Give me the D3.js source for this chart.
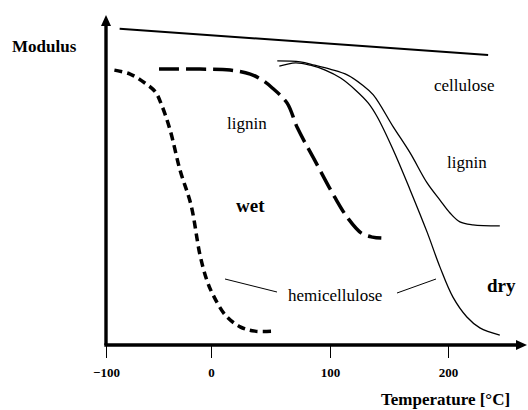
<!DOCTYPE html>
<html>
<head>
<meta charset="utf-8">
<script src="https://cdn.jsdelivr.net/npm/d3@7"></script>
<style>
  body { margin: 0; background: #fff; }
  svg { display: block; font-family: "Liberation Serif", "Times New Roman", serif; }
</style>
</head>
<body>
<svg id="chart" width="528" height="410"></svg>
<script>
// temperature [°C] vs modulus (arbitrary units 0..100)
const tickTemps = [-100, 0, 100, 200];

const celluloseWet = [[-87, 95.8], [234, 87.9]];

const hemiWet = [
  [-92, 83.3], [-77, 82.1], [-63, 79.4], [-53, 76.7], [-47, 72.7], [-39, 65.2],
  [-29.5, 53], [-19, 42.4], [-10.5, 27.3], [-4, 19.7], [1.7, 15.2], [12, 9.1],
  [24.5, 5.5], [37, 4.2], [54, 4.2]
];

const ligninWet = [
  [-49.5, 83.6], [-10.5, 83.6], [16, 83.3], [33, 82.1], [43, 80.3], [51.5, 77.9],
  [64, 73.3], [72.6, 65.8], [87, 56.1], [104, 44.8], [115, 38.5], [126.6, 33.9],
  [136, 32.7], [143.5, 32.4]
];

const celluloseDry = [
  [55.7, 86.1], [75, 85.8], [87, 84.8], [100, 83.6], [115, 81.8], [127.4, 78.8],
  [136.7, 75.8], [153.6, 66.1], [167.9, 58.2], [182.3, 49.1], [193.2, 43.9],
  [201.7, 40], [210.1, 37.3], [221.1, 36.4], [243.9, 36.1]
];

const ligninDry = [
  [57.4, 84.5], [71, 85.5], [83.5, 84.8], [96, 83.3], [109, 80.9], [121.5, 77.3],
  [132.5, 73.3], [140.1, 69.1], [153.6, 59.1], [167.9, 47], [182.3, 34.2],
  [193.2, 23.6], [204.2, 14.5], [216, 8.5], [227, 5.2], [243.9, 3]
];

const svg = d3.select("#chart");
const width = 528;

const x = d3.scaleLinear()
  .domain([-100, 0, 100, 200])
  .range([106, 211, 330, 448]);

const y = d3.scaleLinear()
  .domain([0, 100])
  .range([345, 15]);

const line = d3.line()
  .x((d) => x(d[0]))
  .y((d) => y(d[1]))
  .curve(d3.curveCatmullRom);

// axes
const x0 = x(-100), y0 = y(0), yTop = y(100);

svg.append("g")
  .attr("transform", `translate(0,${y0})`)
  .call(d3.axisBottom(x).tickValues(tickTemps).tickSize(13).tickFormat(d3.format("d")))
  .call((g) => g.select(".domain").remove())
  .call((g) => g.selectAll("line").attr("stroke", "#000").attr("stroke-width", 1))
  .call((g) => g.selectAll("text")
    .attr("y", 32).attr("dy", null)
    .attr("fill", "#000")
    .style("font-family", "Liberation Serif")
    .style("font-weight", "bold")
    .style("font-size", "13px"));

svg.append("line")
  .attr("x1", x0).attr("y1", y0)
  .attr("x2", x0).attr("y2", yTop + 8)
  .attr("stroke", "#000").attr("stroke-width", 3.4);
svg.append("path")
  .attr("d", `M${x0},${yTop}L${x0 - 5},${yTop + 11}L${x0 + 5},${yTop + 11}Z`)
  .attr("fill", "#000");

svg.append("line")
  .attr("x1", x0 - 1.7).attr("y1", y0)
  .attr("x2", width - 9).attr("y2", y0)
  .attr("stroke", "#000").attr("stroke-width", 3.4);
svg.append("path")
  .attr("d", `M${width - 1},${y0}L${width - 12},${y0 - 5}L${width - 12},${y0 + 5}Z`)
  .attr("fill", "#000");

// curves
svg.append("path").datum(celluloseWet).attr("d", line)
  .attr("fill", "none").attr("stroke", "#000").attr("stroke-width", 2);

svg.append("path").datum(hemiWet).attr("d", line)
  .attr("fill", "none").attr("stroke", "#000").attr("stroke-width", 3.5)
  .attr("stroke-dasharray", "8,5");

svg.append("path").datum(ligninWet).attr("d", line)
  .attr("fill", "none").attr("stroke", "#000").attr("stroke-width", 3.5)
  .attr("stroke-dasharray", "20,7");

svg.append("path").datum(celluloseDry).attr("d", line)
  .attr("fill", "none").attr("stroke", "#000").attr("stroke-width", 1.3);

svg.append("path").datum(ligninDry).attr("d", line)
  .attr("fill", "none").attr("stroke", "#000").attr("stroke-width", 1.3);

// hemicellulose leader lines
svg.append("line")
  .attr("x1", 225).attr("y1", 279).attr("x2", 277).attr("y2", 292)
  .attr("stroke", "#000").attr("stroke-width", 1);
svg.append("line")
  .attr("x1", 397).attr("y1", 293).attr("x2", 436).attr("y2", 279)
  .attr("stroke", "#000").attr("stroke-width", 1);

// labels
const labels = [
  { t: "Modulus", x: 12, y: 52, s: 17, b: true },
  { t: "cellulose", x: 434, y: 91, s: 17 },
  { t: "lignin", x: 447, y: 168, s: 17 },
  { t: "lignin", x: 227, y: 129, s: 17 },
  { t: "wet", x: 236, y: 212, s: 19, b: true },
  { t: "dry", x: 487, y: 292, s: 19, b: true },
  { t: "hemicellulose", x: 288, y: 301, s: 17 },
  { t: "Temperature [°C]", x: 381, y: 405, s: 17, b: true }
];

svg.selectAll("text.lbl")
  .data(labels)
  .enter()
  .append("text")
  .attr("class", "lbl")
  .attr("x", (d) => d.x)
  .attr("y", (d) => d.y)
  .attr("font-size", (d) => d.s)
  .attr("font-weight", (d) => (d.b ? "bold" : "normal"))
  .text((d) => d.t);
</script>
</body>
</html>
